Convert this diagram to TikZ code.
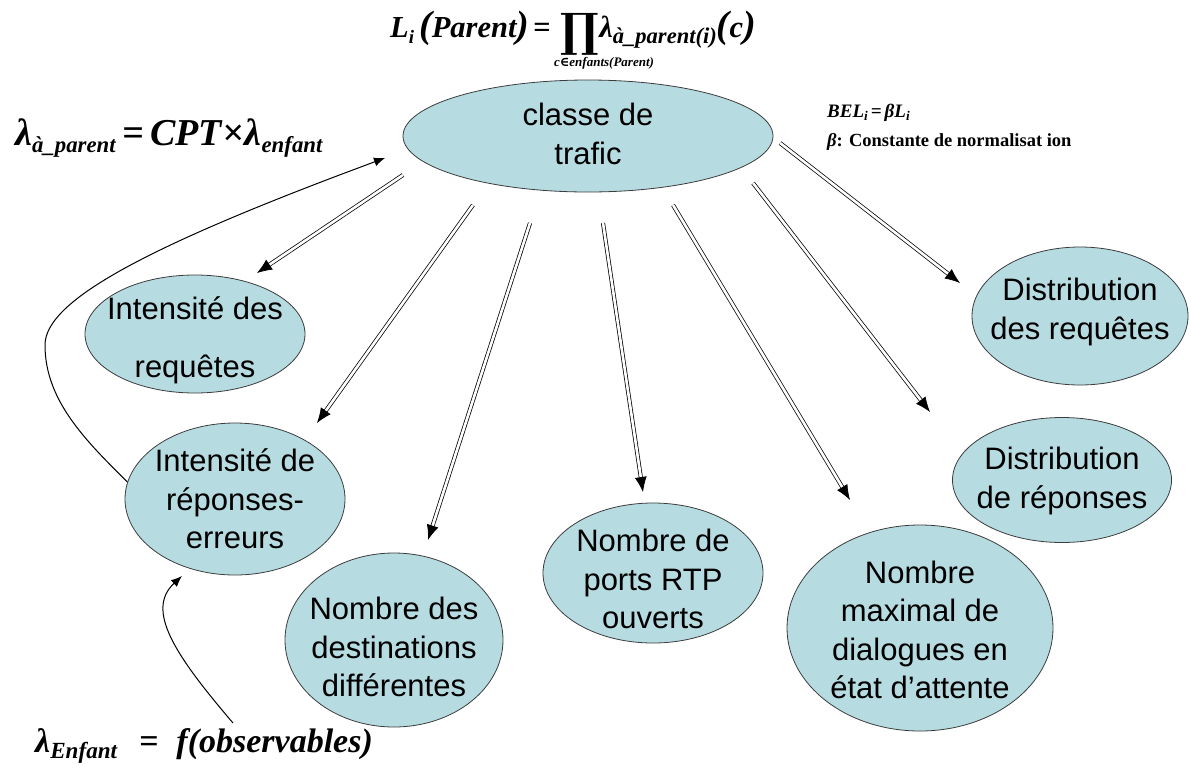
\documentclass[tikz,border=0pt]{standalone}
\usepackage{fontspec}
\setmainfont{Liberation Sans}
\newfontfamily\formule{Liberation Serif}
\newfontfamily\symboles{DejaVu Serif}
\usetikzlibrary{arrows.meta, shapes.geometric}

\definecolor{bleunoeud}{RGB}{182,220,226}
\definecolor{bordnoeud}{RGB}{60,60,60}
\newcommand\fb{\formule\bfseries\itshape}
\makeatletter
\newcommand\ind[2][0.62]{\raisebox{-0.2em}{\fontsize{\fpeval{#1*\f@size}}{0}\selectfont #2}}
\newcommand\gp[1]{{\fontsize{\fpeval{1.25*\f@size}}{0}\selectfont(}#1{\fontsize{\fpeval{1.25*\f@size}}{0}\selectfont)}}
\makeatother

\tikzset{
  every noeud/.style={
    ellipse,
    draw=bordnoeud,
    fill=bleunoeud,
    line width=0.8pt,
    inner sep=0pt
  },
  texte noeud/.style={
    align=center,
    inner sep=0pt,
    font=\fontsize{31}{38.5}\selectfont
  },
  formule/.style={
    anchor=base west,
    inner sep=0pt
  },
  lien/.style={
    double,
    double distance=2.6pt,
    line width=0.75pt,
    -{Latex[length=15pt, width=12pt]}
  },
  influence/.style={
    line width=1pt,
    -{Latex[length=11pt, width=9pt]}
  },
}

\begin{document}
\begin{tikzpicture}[x=1pt, y=-1pt]
  \useasboundingbox (0,0) rectangle (1191,780);

  % noeud parent
  \node [every noeud, minimum width=370pt, minimum height=112pt] (trafic) at (588,136) {};
  \node [texte noeud] (trafic-t) at (588,134) {classe de\\trafic};

  % noeuds enfants
  \foreach \n/\x/\y/\w/\h/\ty/\t in {
      reqint/195/334/220/118/340/{Intensité des\\[19.5pt]requêtes},
      errint/235/499/220/152/499/{Intensité de\\réponses-\\erreurs},
      dest/394/640/218/174/647/{Nombre des\\destinations\\différentes},
      ports/653/573/220/140/579/{Nombre de\\ports RTP\\ouverts},
      dialog/920/628/266/206/630/{Nombre\\maximal de\\dialogues en\\état d’attente},
      distreq/1080/316/216/138/312/{Distribution\\des requêtes},
      distrep/1062/480/219/125/481/{Distribution\\de réponses}}
  {
    \node [every noeud, minimum width=\w pt, minimum height=\h pt] (\n) at (\x,\y) {};
    \node [texte noeud] (\n-t) at (\x,\ty) {\t};
  }

  % liens parent -> enfants
  \foreach \n/\d/\f in {
      reqint/{403,175}/{257,273},
      errint/{473,205}/{317,423},
      dest/{530,223}/{428,540},
      ports/{603,223}/{643,492},
      dialog/{673,205}/{850,500},
      distrep/{753,183}/{930,412},
      distreq/{780,143}/{960,283}}
  {
    \coordinate (dep-\n) at (\d);
    \coordinate (fin-\n) at (\f);
    \draw [lien] (dep-\n) -- (fin-\n);
  }

  % messages
  \coordinate (fin-retour) at (385,158);
  \draw [influence] (errint.171) .. controls (85,440) and (45,400) .. (45,345)
    .. controls (45,300) and (150,245) .. (fin-retour);
  \coordinate (dep-obs) at (233,723);
  \coordinate (fin-obs) at (182,576);
  \draw [influence] (dep-obs) .. controls (175,655) and (145,610) .. (fin-obs);

  % formules
  \node [formule, font=\fontsize{30.5}{30.5}\selectfont\fb] (vraisemblance) at (390,37)
    {L\ind{i}\hspace{5pt}\gp{Parent}\hspace{4pt}=\hspace{10pt}\raisebox{-9pt}{\symboles\bfseries\fontsize{46}{46}\selectfont ∏}λ\ind[0.74]{à\_parent(i)}\gp{c}};
  \node [anchor=base, inner sep=0pt, font=\fontsize{13}{13}\selectfont\fb] (vraisemblance-ind) at (604,66)
    {c{\symboles ∈}enfants(Parent)};
  \node [formule, font=\fontsize{38}{38}\selectfont\fb] (message-parent) at (15,145)
    {λ\ind[0.6]{à\_parent}\hspace{7pt}=\hspace{6pt}CPT×\hspace{1pt}λ\ind[0.6]{enfant}};
  \node [formule, font=\fontsize{34}{34}\selectfont\fb] (message-enfant) at (35,752)
    {λ\ind[0.68]{Enfant}\hspace{22pt}=\hspace{18pt}f(observables)};
  \node [formule, font=\fontsize{19}{19}\selectfont\fb] (croyance) at (827,117)
    {BEL\ind[0.7]{i}\hspace{3pt}=\hspace{3pt}βL\ind[0.7]{i}};
  \node [formule, font=\fontsize{18.5}{18.5}\selectfont\formule\bfseries] (normalisation) at (827,146)
    {\itshape β\upshape : Constante de normalisat ion};
\end{tikzpicture}
\end{document}
